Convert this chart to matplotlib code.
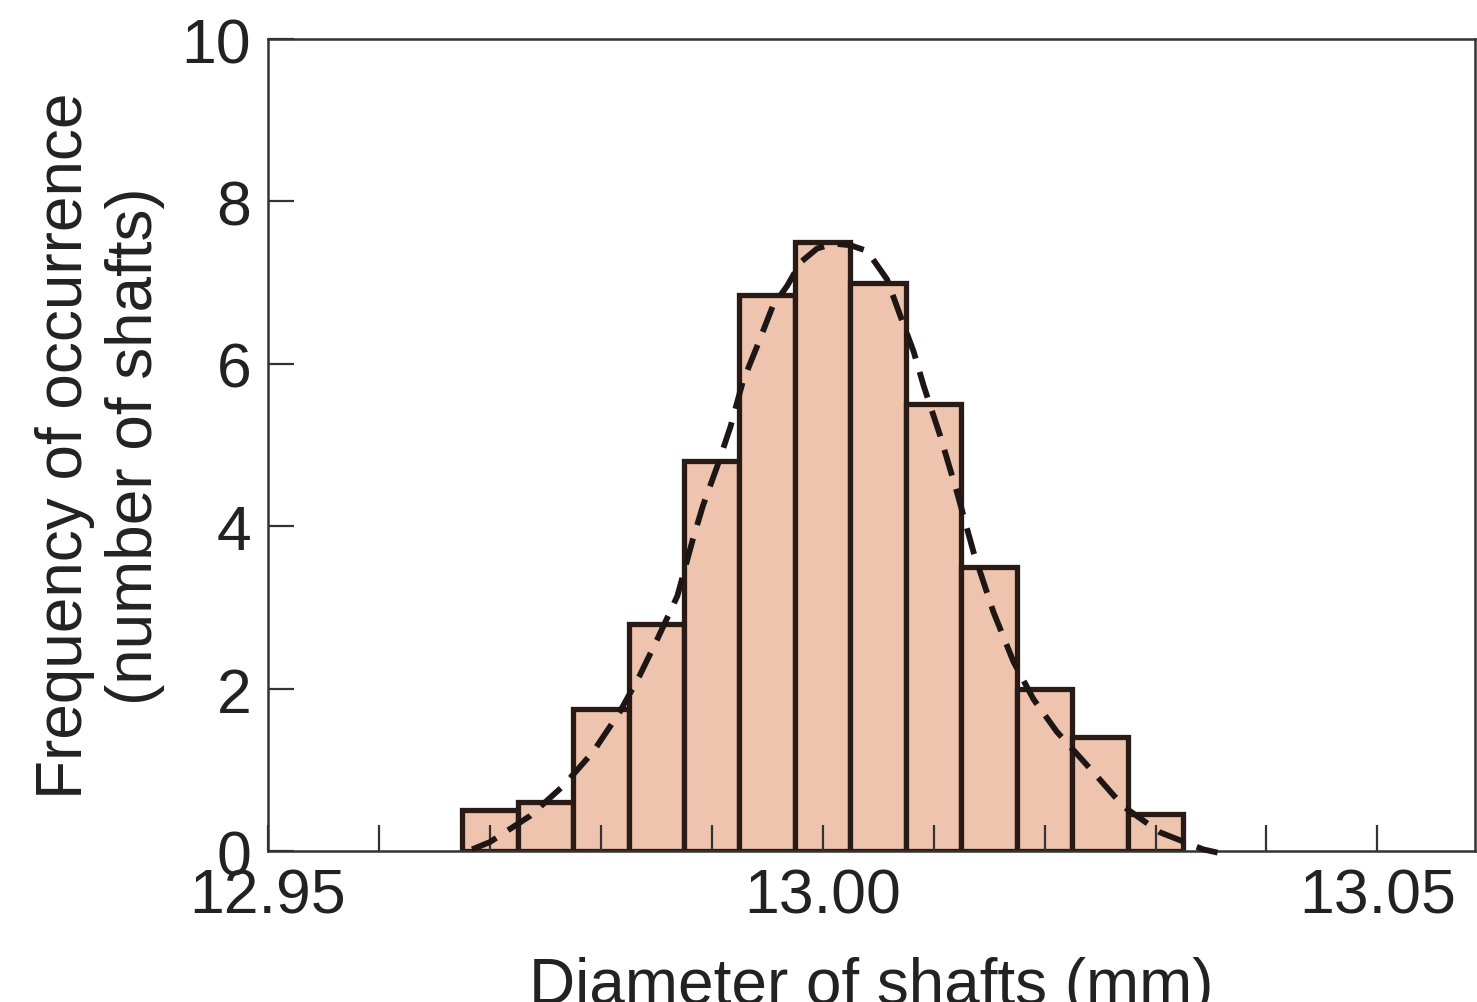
import numpy as np
import matplotlib
matplotlib.use("Agg")
import matplotlib.pyplot as plt

plt.rcParams['font.family'] = ['Liberation Sans', 'DejaVu Sans']

# ---- histogram data ----
bin_centers = [12.970, 12.975, 12.980, 12.985, 12.990, 12.995, 13.000,
               13.005, 13.010, 13.015, 13.020, 13.025, 13.030]
counts = [0.5, 0.6, 1.75, 2.8, 4.8, 6.85, 7.5, 7.0, 5.5, 3.5, 2.0, 1.4, 0.45]
bin_width = 0.005

# ---- dashed fitted curve ----
curve_x = [12.9684, 12.9700, 12.9736, 12.9766, 12.9793, 12.9817, 12.9835,
           12.9851, 12.9869, 12.9883, 12.9892, 12.9905, 12.9917, 12.9928,
           12.9941, 12.9955, 12.9968, 12.9980, 12.9995, 13.0010, 13.0025,
           13.0040, 13.0058, 13.0070, 13.0082, 13.0091, 13.0106, 13.0121,
           13.0136, 13.0154, 13.0172, 13.0190, 13.0211, 13.0244, 13.0271,
           13.0304, 13.0343, 13.0356]
curve_y = [0.02, 0.11, 0.43, 0.80, 1.22, 1.71, 2.16,
           2.61, 3.14, 3.84, 4.25, 4.74, 5.23, 5.78,
           6.22, 6.71, 6.96, 7.25, 7.42, 7.48, 7.46,
           7.39, 7.04, 6.59, 6.15, 5.73, 5.11, 4.42,
           3.68, 2.94, 2.33, 1.87, 1.47, 0.97, 0.55,
           0.23, 0.02, -0.02]

x_major = [12.95, 13.00, 13.05]
x_major_labels = ['12.95', '13.00', '13.05']
x_minor = [12.96, 12.97, 12.98, 12.99, 13.01, 13.02, 13.03, 13.04]
y_ticks = [0, 2, 4, 6, 8, 10]

# ---- figure ----
fig = plt.figure(figsize=(14.77, 10.03), dpi=100)
ax = fig.add_axes([268 / 1477, 1 - 852 / 1003, (1475 - 268) / 1477, (852 - 40) / 1003])

ax.bar(bin_centers, counts, width=bin_width, color='#EFC4AE',
       edgecolor='#2a1a16', linewidth=3.8, zorder=1)

curve, = ax.plot(curve_x, curve_y, color='#1e1614', lw=4.2, zorder=3,
                 clip_on=False)
curve.set_dashes((4.6, 2.4))
curve.set_dash_capstyle('butt')

ax.set_xlim(12.95, 13.0588)
ax.set_ylim(0, 10)

ax.set_xticks(x_major)
ax.set_xticklabels(x_major_labels)
ax.set_xticks(x_minor, minor=True)
ax.set_yticks(y_ticks)

ax.tick_params(axis='both', which='both', direction='in', width=1.6,
               color='#333333', labelsize=45, labelcolor='#222222')
ax.tick_params(axis='x', which='major', length=19, pad=11)
ax.tick_params(axis='x', which='minor', length=19)
ax.tick_params(axis='y', which='major', length=19, pad=12)

for s in ax.spines.values():
    s.set_linewidth(1.8)
    s.set_color('#333333')

ax.set_ylabel('Frequency of occurrence\n(number of shafts)', fontsize=46,
              color='#222222', linespacing=1.22, labelpad=12)
ax.set_xlabel('Diameter of shafts (mm)', fontsize=46, color='#222222',
              labelpad=22)

fig.savefig('out.png', dpi=100)
